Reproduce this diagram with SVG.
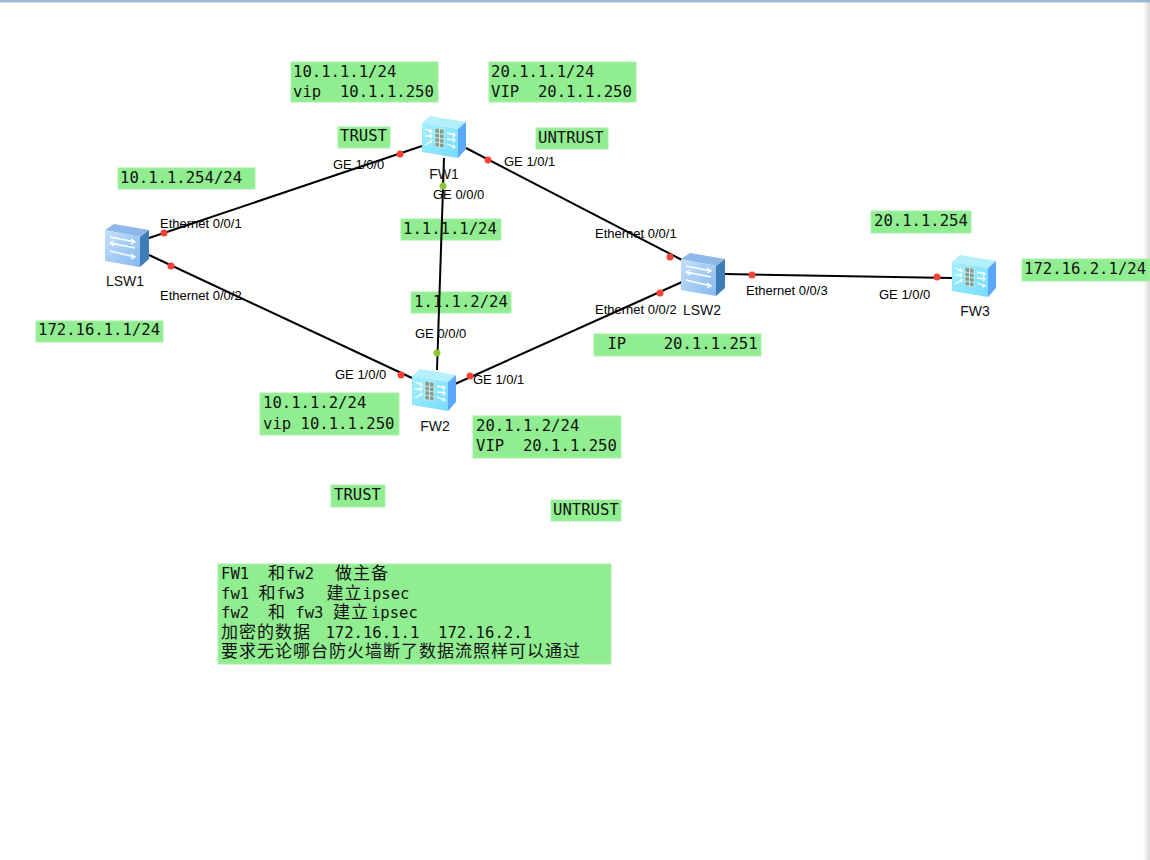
<svg xmlns="http://www.w3.org/2000/svg" width="1150" height="860" viewBox="0 0 1150 860">
<style>
.box{fill:#90ee90;stroke:#a8f0a8;stroke-width:1}
.t{font-family:"DejaVu Sans Mono","Liberation Mono","Noto Sans CJK SC",monospace;font-size:15.6px;fill:#111;white-space:pre}
.c{font-family:"Noto Sans CJK SC",sans-serif;font-size:17px;letter-spacing:1px}
.p{font-family:"Liberation Sans",Arial,sans-serif;font-size:13px;fill:#000;white-space:pre}
.n{font-family:"Liberation Sans",Arial,sans-serif;font-size:14px;fill:#111;text-anchor:middle}
.l{stroke:#000;stroke-width:2;fill:none}
.r{fill:#f44336}
.g{fill:#8cc832}
.a{fill:none;stroke:#fff;stroke-width:1.3}
</style>
<defs>
<linearGradient id="ff" x1="0" y1="0" x2="1" y2="1"><stop offset="0" stop-color="#a0f0ff"/><stop offset="1" stop-color="#78dcff"/></linearGradient>
<linearGradient id="sf" x1="0" y1="0" x2="1" y2="1"><stop offset="0" stop-color="#c4e0fb"/><stop offset="1" stop-color="#86b8ee"/></linearGradient>
<linearGradient id="edge" x1="0" y1="0" x2="1" y2="0"><stop offset="0" stop-color="#fff"/><stop offset="1" stop-color="#d8d8d8"/></linearGradient>
<g id="fw">
<path d="M0 7L8 0L44 6L36 13Z" fill="#b4f0fb"/>
<path d="M36 13L44 6V33L36 42Z" fill="#5aa8fa"/>
<path d="M0 7L36 13V42L0 36Z" fill="url(#ff)"/>
<path d="M13 12L22 13.500V32L13 30.500Z" fill="#7f9f95" stroke="#e8f8f0" stroke-width=".6"/>
<path d="M13 17L22 18.500M13 21.500L22 23M13 26L22 27.500M17.500 13V31" stroke="#e8f8f0" stroke-width=".8" fill="none"/>
<path class="a" d="M3 13L10 16M7 15.500L10 16L8 13M3 20H10M8 18L10 20L8 22M3 29L10 25M8 25L10 25L9 27M25 17L33 19M31 17L33 19L31 21M25 23L33 24M31 22L33 24L31 26M25 28L33 31M31 29L33 31L30 32"/>
</g>
<g id="sw">
<path d="M0 6L9 0L44 6L35 13Z" fill="#8db8e8"/>
<path d="M35 13L44 6V35L35 43Z" fill="#3f7db8"/>
<path d="M0 6L35 13V43L0 37Z" fill="url(#sf)"/>
<path class="a" stroke-width="1.500" d="M5 13L30 18M26 15L30 18L26 20M30 24L5 19M9 17L5 19L9 22M5 27L30 33M26 30L30 33L26 35"/>
</g>
</defs>
<rect width="1150" height="860" fill="#fff"/>
<rect x="1143" y="0" width="7" height="860" fill="url(#edge)"/>
<rect x="0" y="0" width="1150" height="2.500" fill="#9ab9d4"/>

<g id="labels-green">
<rect class="box" x="291" y="62" width="147" height="40"/>
<rect class="box" x="489" y="62" width="147" height="40"/>
<rect class="box" x="338" y="127" width="52" height="21"/>
<rect class="box" x="536" y="128" width="72" height="21"/>
<rect class="box" x="118" y="168" width="137" height="21"/>
<rect class="box" x="401" y="219" width="100" height="21"/>
<rect class="box" x="411" y="292" width="100" height="21"/>
<rect class="box" x="36" y="321" width="127" height="21"/>
<rect class="box" x="871" y="211" width="100" height="22"/>
<rect class="box" x="1022" y="259" width="128" height="22"/>
<rect class="box" x="594" y="334" width="167" height="22"/>
<rect class="box" x="260" y="393" width="139" height="42"/>
<rect class="box" x="473" y="416" width="148" height="42"/>
<rect class="box" x="331" y="485" width="54" height="22"/>
<rect class="box" x="551" y="500" width="70" height="21"/>
<rect class="box" x="218" y="564" width="393" height="100"/>
<text class="t" x="293" y="77">10.1.1.1/24</text>
<text class="t" x="293" y="97">vip  10.1.1.250</text>
<text class="t" x="491" y="77">20.1.1.1/24</text>
<text class="t" x="491" y="97">VIP  20.1.1.250</text>
<text class="t" x="340" y="141">TRUST</text>
<text class="t" x="538" y="143">UNTRUST</text>
<text class="t" x="120" y="183">10.1.1.254/24</text>
<text class="t" x="403" y="234">1.1.1.1/24</text>
<text class="t" x="414" y="307">1.1.1.2/24</text>
<text class="t" x="38" y="335">172.16.1.1/24</text>
<text class="t" x="874" y="226">20.1.1.254</text>
<text class="t" x="1024" y="274">172.16.2.1/24</text>
<text class="t" x="598" y="349"> IP    20.1.1.251</text>
<text class="t" x="263" y="408">10.1.1.2/24</text>
<text class="t" x="263" y="429">vip 10.1.1.250</text>
<text class="t" x="476" y="431">20.1.1.2/24</text>
<text class="t" x="476" y="451">VIP  20.1.1.250</text>
<text class="t" x="334" y="500">TRUST</text>
<text class="t" x="553" y="515">UNTRUST</text>
<text class="t" x="221" y="579">FW1  <tspan class="c">和</tspan>fw2  <tspan class="c" dx="2">做主备</tspan></text>
<text class="t" x="221" y="599">fw1 <tspan class="c">和</tspan>fw3  <tspan class="c" dx="3">建立</tspan>ipsec</text>
<text class="t" x="221" y="618">fw2  <tspan class="c">和</tspan> fw3 <tspan class="c">建立</tspan><tspan dx="2">ipsec</tspan></text>
<text class="t" x="221" y="638"><tspan class="c">加密的数据</tspan><tspan dx="5"> 172.16.1.1  172.16.2.1</tspan></text>
<text class="t" x="221" y="657"><tspan class="c">要求无论哪台防火墙断了数据流照样可以通过</tspan></text>
</g>

<g id="connectors">
<path class="l" d="M149 238L422 146"/>
<path class="l" d="M149 255L412 378"/>
<path class="l" d="M466 148L682 260"/>
<path class="l" d="M444 158L437 370"/>
<path class="l" d="M455 384L682 282"/>
<path class="l" d="M725 274L952 278"/>
<circle class="r" cx="164" cy="233" r="3.500"/>
<circle class="r" cx="400" cy="154" r="3.500"/>
<circle class="r" cx="171" cy="266" r="3.500"/>
<circle class="r" cx="401" cy="375" r="3.500"/>
<circle class="r" cx="488" cy="160" r="3.500"/>
<circle class="r" cx="670" cy="257" r="3.500"/>
<circle class="r" cx="470" cy="376" r="3.500"/>
<circle class="r" cx="660" cy="293" r="3.500"/>
<circle class="r" cx="752" cy="275" r="3.500"/>
<circle class="r" cx="937" cy="277" r="3.500"/>
<circle class="g" cx="443" cy="186" r="3.500"/>
<circle class="g" cx="437" cy="353" r="3.500"/>
<text class="p" x="333" y="169">GE 1/0/0</text>
<text class="p" x="504" y="166">GE 1/0/1</text>
<text class="p" x="433" y="199">GE 0/0/0</text>
<text class="p" x="160" y="228">Ethernet 0/0/1</text>
<text class="p" x="160" y="300">Ethernet 0/0/2</text>
<text class="p" x="595" y="238">Ethernet 0/0/1</text>
<text class="p" x="595" y="314">Ethernet 0/0/2</text>
<text class="p" x="415" y="338">GE 0/0/0</text>
<text class="p" x="335" y="379">GE 1/0/0</text>
<text class="p" x="473" y="384">GE 1/0/1</text>
<text class="p" x="746" y="295">Ethernet 0/0/3</text>
<text class="p" x="879" y="299">GE 1/0/0</text>
</g>

<g id="LSW1"><use href="#sw" x="105" y="224"/><text class="n" x="125" y="286">LSW1</text></g>
<g id="FW1"><use href="#fw" x="422" y="116"/><text class="n" x="444" y="179">FW1</text></g>
<g id="FW2"><use href="#fw" x="412" y="369"/><text class="n" x="435" y="431">FW2</text></g>
<g id="LSW2"><use href="#sw" x="681" y="253"/><text class="n" x="702" y="315">LSW2</text></g>
<g id="FW3"><use href="#fw" x="952" y="255"/><text class="n" x="975" y="316">FW3</text></g>
</svg>
